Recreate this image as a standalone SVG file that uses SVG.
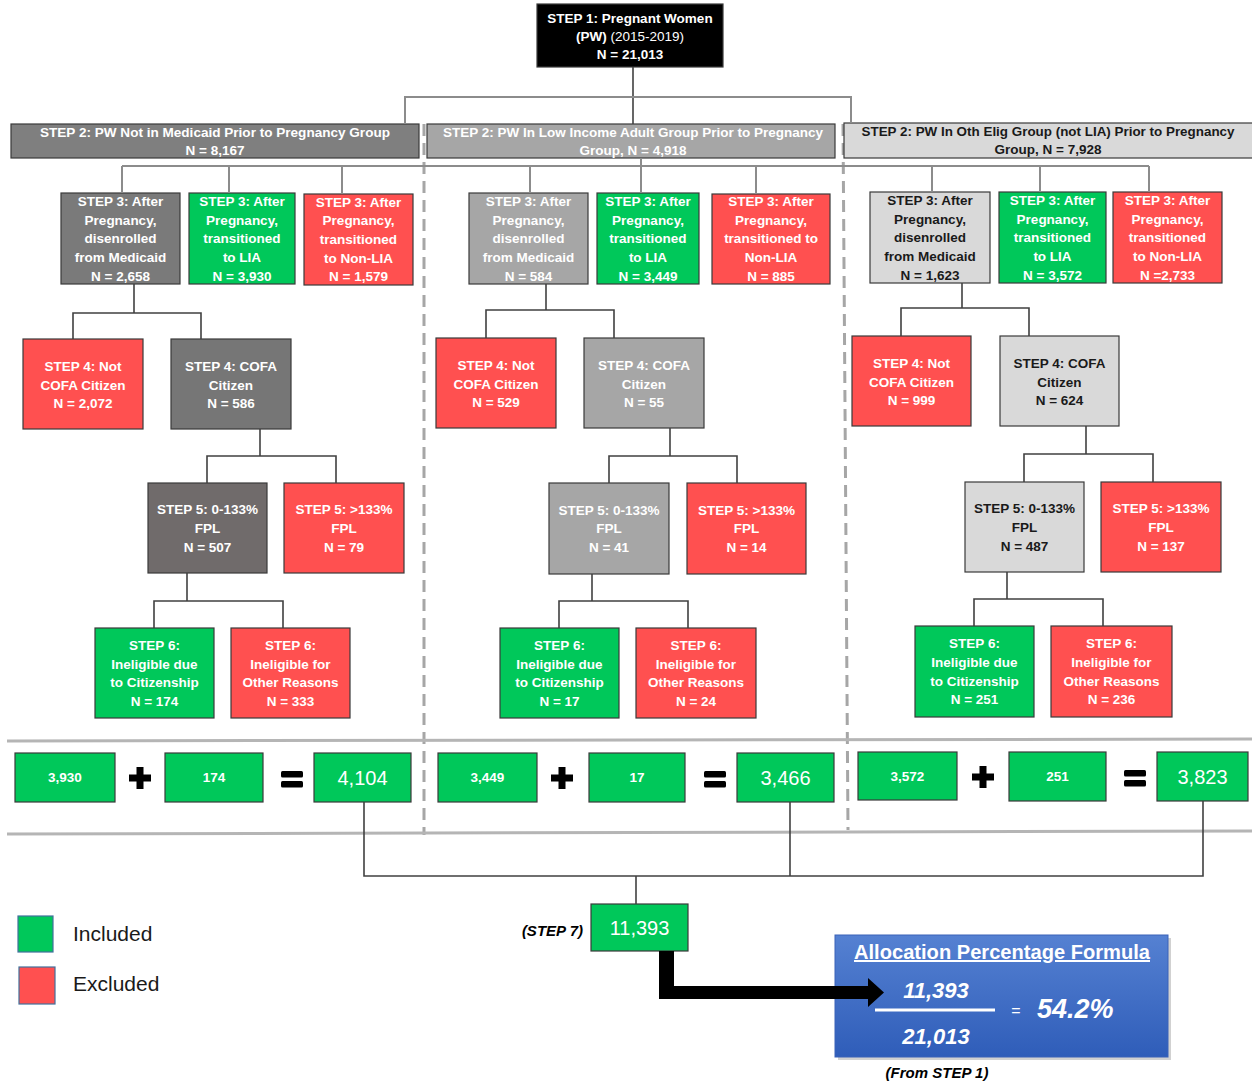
<svg xmlns="http://www.w3.org/2000/svg" width="1252" height="1085" viewBox="0 0 1252 1085">
<style>
text{font-family:'Liberation Sans',Arial,sans-serif}
.t{font-size:13.5px;font-weight:bold;text-anchor:middle;fill:#fff}
.k{fill:#1a1a1a}
rect.b{stroke:#3a3a3a;stroke-width:1.2}
.g{fill:#00c85a}.r{fill:#ff5050}.d0{fill:#000}.d1{fill:#7f7f7f}.d1a{fill:#7a7a7a}.d1b{fill:#767676}.d1c{fill:#706b6b}.d2{fill:#a6a6a6}.d3{fill:#d9d9d9}
.c{fill:none;stroke:#404040;stroke-width:1.6}
.cg{fill:none;stroke:#8c8c8c;stroke-width:2}
.dash{fill:none;stroke:#a6a6a6;stroke-width:3;stroke-dasharray:12 7}
.sep{fill:none;stroke:#b5b5b5;stroke-width:3}
.sm{font-size:13.5px;font-weight:bold;text-anchor:middle;fill:#fff}
.big{font-size:20px;text-anchor:middle;fill:#fff}
</style>
<defs>
<linearGradient id="blue" x1="0" y1="0" x2="0" y2="1">
<stop offset="0" stop-color="#5581d2"/>
<stop offset="1" stop-color="#2f5db9"/>
</linearGradient>
</defs>
<rect width="1252" height="1085" fill="#fff"/>

<g id="separators">
<line class="dash" x1="424" y1="124" x2="424" y2="835"/>
<line class="dash" x1="843" y1="124" x2="848" y2="830"/>
<line class="sep" x1="7" y1="741" x2="1252" y2="739"/>
<line class="sep" x1="7" y1="834" x2="1252" y2="831"/>
</g>

<!-- STEP 1 -->
<g id="step1">
<rect class="b d0" x="537" y="4" width="186" height="63"/>
<text class="t" x="630" y="22.8">STEP 1: Pregnant Women</text>
<text class="t" x="630" y="40.8">(PW)<tspan font-weight="normal"> (2015-2019)</tspan></text>
<text class="t" x="630" y="58.8">N = 21,013</text>
</g>

<!-- STEP 2 -->
<g id="step2a">
<rect class="b d1" x="11" y="124" width="408" height="34"/>
<text class="t" x="215" y="136.5" textLength="350" lengthAdjust="spacingAndGlyphs">STEP 2: PW Not in Medicaid Prior to Pregnancy Group</text>
<text class="t" x="215" y="154.8">N = 8,167</text>
</g>
<g id="step2b">
<rect class="b d2" x="427" y="124" width="408" height="34"/>
<text class="t" x="633" y="136.5" textLength="380" lengthAdjust="spacingAndGlyphs">STEP 2: PW In Low Income Adult Group Prior to Pregnancy</text>
<text class="t" x="633" y="154.8">Group, N = 4,918</text>
</g>
<g id="step2c">
<rect class="b d3" x="844" y="123" width="410" height="35"/>
<text class="t k" x="1048" y="136" textLength="373" lengthAdjust="spacingAndGlyphs">STEP 2: PW In Oth Elig Group (not LIA) Prior to Pregnancy</text>
<text class="t k" x="1048" y="154.3">Group, N = 7,928</text>
</g>

<!-- STEP 3 -->
<g id="step3a1">
<rect class="b d1a" x="61" y="193" width="119" height="91"/>
<text class="t" x="120.5" y="205.9">STEP 3: After</text>
<text class="t" x="120.5" y="224.6">Pregnancy,</text>
<text class="t" x="120.5" y="243.3">disenrolled</text>
<text class="t" x="120.5" y="262">from Medicaid</text>
<text class="t" x="120.5" y="280.7">N = 2,658</text>
</g>
<g id="step3a2">
<rect class="b g" x="189" y="193" width="106" height="91"/>
<text class="t" x="242" y="205.9">STEP 3: After</text>
<text class="t" x="242" y="224.6">Pregnancy,</text>
<text class="t" x="242" y="243.3">transitioned</text>
<text class="t" x="242" y="262">to LIA</text>
<text class="t" x="242" y="280.7">N = 3,930</text>
</g>
<g id="step3a3">
<rect class="b r" x="304" y="194" width="109" height="91"/>
<text class="t" x="358.5" y="206.5">STEP 3: After</text>
<text class="t" x="358.5" y="225.2">Pregnancy,</text>
<text class="t" x="358.5" y="243.9">transitioned</text>
<text class="t" x="358.5" y="262.6">to Non-LIA</text>
<text class="t" x="358.5" y="281.3">N = 1,579</text>
</g>
<g id="step3b1">
<rect class="b d2" x="469" y="193" width="119" height="91"/>
<text class="t" x="528.5" y="205.9">STEP 3: After</text>
<text class="t" x="528.5" y="224.6">Pregnancy,</text>
<text class="t" x="528.5" y="243.3">disenrolled</text>
<text class="t" x="528.5" y="262">from Medicaid</text>
<text class="t" x="528.5" y="280.7">N = 584</text>
</g>
<g id="step3b2">
<rect class="b g" x="597" y="193" width="102" height="91"/>
<text class="t" x="648" y="205.9">STEP 3: After</text>
<text class="t" x="648" y="224.6">Pregnancy,</text>
<text class="t" x="648" y="243.3">transitioned</text>
<text class="t" x="648" y="262">to LIA</text>
<text class="t" x="648" y="280.7">N = 3,449</text>
</g>
<g id="step3b3">
<rect class="b r" x="712" y="194" width="118" height="90"/>
<text class="t" x="771" y="205.9">STEP 3: After</text>
<text class="t" x="771" y="224.6">Pregnancy,</text>
<text class="t" x="771" y="243.3">transitioned to</text>
<text class="t" x="771" y="262">Non-LIA</text>
<text class="t" x="771" y="280.7">N = 885</text>
</g>
<g id="step3c1">
<rect class="b d3" x="870" y="192" width="120" height="91"/>
<text class="t k" x="930" y="205">STEP 3: After</text>
<text class="t k" x="930" y="223.7">Pregnancy,</text>
<text class="t k" x="930" y="242.4">disenrolled</text>
<text class="t k" x="930" y="261.1">from Medicaid</text>
<text class="t k" x="930" y="279.8">N = 1,623</text>
</g>
<g id="step3c2">
<rect class="b g" x="999" y="192" width="107" height="91"/>
<text class="t" x="1052.5" y="205">STEP 3: After</text>
<text class="t" x="1052.5" y="223.7">Pregnancy,</text>
<text class="t" x="1052.5" y="242.4">transitioned</text>
<text class="t" x="1052.5" y="261.1">to LIA</text>
<text class="t" x="1052.5" y="279.8">N = 3,572</text>
</g>
<g id="step3c3">
<rect class="b r" x="1113" y="192" width="109" height="91"/>
<text class="t" x="1167.5" y="205">STEP 3: After</text>
<text class="t" x="1167.5" y="223.7">Pregnancy,</text>
<text class="t" x="1167.5" y="242.4">transitioned</text>
<text class="t" x="1167.5" y="261.1">to Non-LIA</text>
<text class="t" x="1167.5" y="279.8">N =2,733</text>
</g>

<!-- STEP 4 -->
<g id="step4a1">
<rect class="b r" x="23" y="339" width="120" height="90"/>
<text class="t" x="83" y="370.8">STEP 4: Not</text>
<text class="t" x="83" y="389.5">COFA Citizen</text>
<text class="t" x="83" y="408.2">N = 2,072</text>
</g>
<g id="step4a2">
<rect class="b d1b" x="171" y="339" width="120" height="90"/>
<text class="t" x="231" y="370.8">STEP 4: COFA</text>
<text class="t" x="231" y="389.5">Citizen</text>
<text class="t" x="231" y="408.2">N = 586</text>
</g>
<g id="step4b1">
<rect class="b r" x="436" y="338" width="120" height="90"/>
<text class="t" x="496" y="369.8">STEP 4: Not</text>
<text class="t" x="496" y="388.5">COFA Citizen</text>
<text class="t" x="496" y="407.2">N = 529</text>
</g>
<g id="step4b2">
<rect class="b d2" x="584" y="338" width="120" height="90"/>
<text class="t" x="644" y="369.8">STEP 4: COFA</text>
<text class="t" x="644" y="388.5">Citizen</text>
<text class="t" x="644" y="407.2">N = 55</text>
</g>
<g id="step4c1">
<rect class="b r" x="852" y="336" width="119" height="90"/>
<text class="t" x="911.5" y="367.8">STEP 4: Not</text>
<text class="t" x="911.5" y="386.5">COFA Citizen</text>
<text class="t" x="911.5" y="405.2">N = 999</text>
</g>
<g id="step4c2">
<rect class="b d3" x="1000" y="336" width="119" height="90"/>
<text class="t k" x="1059.5" y="367.8">STEP 4: COFA</text>
<text class="t k" x="1059.5" y="386.5">Citizen</text>
<text class="t k" x="1059.5" y="405.2">N = 624</text>
</g>

<!-- STEP 5 -->
<g id="step5a1">
<rect class="b d1c" x="148" y="483" width="119" height="90"/>
<text class="t" x="207.5" y="514.1">STEP 5: 0-133%</text>
<text class="t" x="207.5" y="532.8">FPL</text>
<text class="t" x="207.5" y="551.5">N = 507</text>
</g>
<g id="step5a2">
<rect class="b r" x="284" y="483" width="120" height="90"/>
<text class="t" x="344" y="514.1">STEP 5: &gt;133%</text>
<text class="t" x="344" y="532.8">FPL</text>
<text class="t" x="344" y="551.5">N = 79</text>
</g>
<g id="step5b1">
<rect class="b d2" x="549" y="483" width="120" height="91"/>
<text class="t" x="609" y="514.6">STEP 5: 0-133%</text>
<text class="t" x="609" y="533.3">FPL</text>
<text class="t" x="609" y="552">N = 41</text>
</g>
<g id="step5b2">
<rect class="b r" x="687" y="483" width="119" height="91"/>
<text class="t" x="746.5" y="514.6">STEP 5: &gt;133%</text>
<text class="t" x="746.5" y="533.3">FPL</text>
<text class="t" x="746.5" y="552">N = 14</text>
</g>
<g id="step5c1">
<rect class="b d3" x="965" y="482" width="119" height="90"/>
<text class="t k" x="1024.5" y="513.1">STEP 5: 0-133%</text>
<text class="t k" x="1024.5" y="531.8">FPL</text>
<text class="t k" x="1024.5" y="550.5">N = 487</text>
</g>
<g id="step5c2">
<rect class="b r" x="1101" y="482" width="120" height="90"/>
<text class="t" x="1161" y="513.1">STEP 5: &gt;133%</text>
<text class="t" x="1161" y="531.8">FPL</text>
<text class="t" x="1161" y="550.5">N = 137</text>
</g>

<!-- STEP 6 -->
<g id="step6a1">
<rect class="b g" x="95" y="628" width="119" height="90"/>
<text class="t" x="154.5" y="649.8">STEP 6:</text>
<text class="t" x="154.5" y="668.5">Ineligible due</text>
<text class="t" x="154.5" y="687.2">to Citizenship</text>
<text class="t" x="154.5" y="705.9">N = 174</text>
</g>
<g id="step6a2">
<rect class="b r" x="231" y="628" width="119" height="90"/>
<text class="t" x="290.5" y="649.8">STEP 6:</text>
<text class="t" x="290.5" y="668.5">Ineligible for</text>
<text class="t" x="290.5" y="687.2">Other Reasons</text>
<text class="t" x="290.5" y="705.9">N = 333</text>
</g>
<g id="step6b1">
<rect class="b g" x="500" y="628" width="119" height="90"/>
<text class="t" x="559.5" y="649.8">STEP 6:</text>
<text class="t" x="559.5" y="668.5">Ineligible due</text>
<text class="t" x="559.5" y="687.2">to Citizenship</text>
<text class="t" x="559.5" y="705.9">N = 17</text>
</g>
<g id="step6b2">
<rect class="b r" x="636" y="628" width="120" height="90"/>
<text class="t" x="696" y="649.8">STEP 6:</text>
<text class="t" x="696" y="668.5">Ineligible for</text>
<text class="t" x="696" y="687.2">Other Reasons</text>
<text class="t" x="696" y="705.9">N = 24</text>
</g>
<g id="step6c1">
<rect class="b g" x="915" y="626" width="119" height="91"/>
<text class="t" x="974.5" y="648.3">STEP 6:</text>
<text class="t" x="974.5" y="667">Ineligible due</text>
<text class="t" x="974.5" y="685.7">to Citizenship</text>
<text class="t" x="974.5" y="704.4">N = 251</text>
</g>
<g id="step6c2">
<rect class="b r" x="1051" y="626" width="121" height="91"/>
<text class="t" x="1111.5" y="648.3">STEP 6:</text>
<text class="t" x="1111.5" y="667">Ineligible for</text>
<text class="t" x="1111.5" y="685.7">Other Reasons</text>
<text class="t" x="1111.5" y="704.4">N = 236</text>
</g>

<!-- sums -->
<g id="sumA">
<rect class="b g" x="15" y="753" width="100" height="49"/>
<text class="sm" x="65" y="782">3,930</text>
<path d="M136.5 767h7v7.5h7.5v7h-7.5v7.5h-7v-7.5h-7.5v-7h7.5z" fill="#000"/>
<rect class="b g" x="165" y="753" width="98" height="49"/>
<text class="sm" x="214" y="782">174</text>
<rect x="281" y="771" width="22" height="6.5" rx="1.5" fill="#000"/>
<rect x="281" y="781" width="22" height="6.5" rx="1.5" fill="#000"/>
<rect class="b g" x="314" y="753" width="97" height="49"/>
<text class="big" x="362.5" y="785">4,104</text>
</g>
<g id="sumB">
<rect class="b g" x="438" y="753" width="99" height="49"/>
<text class="sm" x="487.5" y="782">3,449</text>
<path d="M558.5 767h7v7.5h7.5v7h-7.5v7.5h-7v-7.5h-7.5v-7h7.5z" fill="#000"/>
<rect class="b g" x="589" y="753" width="96" height="49"/>
<text class="sm" x="637" y="782">17</text>
<rect x="704" y="771" width="22" height="6.5" rx="1.5" fill="#000"/>
<rect x="704" y="781" width="22" height="6.5" rx="1.5" fill="#000"/>
<rect class="b g" x="737" y="753" width="97" height="49"/>
<text class="big" x="785.5" y="785">3,466</text>
</g>
<g id="sumC">
<rect class="b g" x="858" y="752" width="99" height="48"/>
<text class="sm" x="907.5" y="781">3,572</text>
<path d="M979.5 766h7v7.5h7.5v7h-7.5v7.5h-7v-7.5h-7.5v-7h7.5z" fill="#000"/>
<rect class="b g" x="1009" y="752" width="97" height="49"/>
<text class="sm" x="1057.5" y="781">251</text>
<rect x="1124" y="770" width="22" height="6.5" rx="1.5" fill="#000"/>
<rect x="1124" y="780" width="22" height="6.5" rx="1.5" fill="#000"/>
<rect class="b g" x="1157" y="752" width="91" height="49"/>
<text class="big" x="1202.5" y="784">3,823</text>
</g>

<!-- STEP 7 -->
<g id="step7">
<text x="583" y="936" font-size="15" font-weight="bold" font-style="italic" text-anchor="end" fill="#000">(STEP 7)</text>
<rect class="b g" x="591" y="904" width="97" height="47"/>
<text class="big" x="639.5" y="934.5">11,393</text>
</g>

<!-- formula -->
<g id="formula">
<rect x="838" y="938" width="333" height="122" fill="#000" opacity="0.18"/>
<rect x="835" y="935" width="333" height="122" fill="url(#blue)" stroke="#3a62b8" stroke-width="1"/>
<text x="1002" y="959" font-size="20" font-weight="bold" text-anchor="middle" fill="#fff" textLength="296" lengthAdjust="spacingAndGlyphs" text-decoration="underline">Allocation Percentage Formula</text>
<text x="936" y="998" font-size="22" font-weight="bold" font-style="italic" text-anchor="middle" fill="#fff">11,393</text>
<line x1="875" y1="1010" x2="995" y2="1010" stroke="#fff" stroke-width="3"/>
<text x="1016" y="1016" font-size="16" text-anchor="middle" fill="#fff">=</text>
<text x="1037" y="1018" font-size="27" font-weight="bold" font-style="italic" fill="#fff">54.2%</text>
<text x="936" y="1044" font-size="22" font-weight="bold" font-style="italic" text-anchor="middle" fill="#fff">21,013</text>
<text x="937" y="1078" font-size="15" font-weight="bold" font-style="italic" text-anchor="middle" fill="#000">(From STEP 1)</text>
</g>

<!-- legend -->
<g id="legend">
<rect x="18" y="916" width="35" height="36" fill="#00c85a" stroke="#41719c" stroke-width="1.2"/>
<text x="73" y="941" font-size="21" fill="#1a1a1a">Included</text>
<rect x="19" y="967" width="36" height="37" fill="#ff5050" stroke="#41719c" stroke-width="1.2"/>
<text x="73" y="991" font-size="21" fill="#1a1a1a">Excluded</text>
</g>

<g id="connectors">
<line class="c" x1="633" y1="67" x2="633" y2="124"/>
<polyline class="cg" points="405,124 405,97 851,97 851,123"/>
<line class="cg" x1="122" y1="166" x2="1149" y2="166"/>
<line class="cg" x1="122" y1="166" x2="122" y2="193"/>
<line class="cg" x1="229" y1="166" x2="229" y2="193"/>
<line class="cg" x1="342" y1="166" x2="342" y2="194"/>
<line class="cg" x1="530" y1="166" x2="530" y2="193"/>
<line class="cg" x1="641" y1="158" x2="641" y2="193"/>
<line class="cg" x1="756" y1="166" x2="756" y2="194"/>
<line class="cg" x1="932" y1="166" x2="932" y2="192"/>
<line class="cg" x1="1040" y1="166" x2="1040" y2="192"/>
<line class="cg" x1="1149" y1="166" x2="1149" y2="192"/>
<polyline class="c" points="134,284 134,313"/>
<polyline class="c" points="73,339 73,313 201,313 201,339"/>
<polyline class="c" points="546,284 546,310"/>
<polyline class="c" points="486,338 486,310 614,310 614,338"/>
<polyline class="c" points="962,283 962,308"/>
<polyline class="c" points="901,336 901,308 1029,308 1029,336"/>
<polyline class="c" points="260,429 260,456"/>
<polyline class="c" points="207,483 207,456 336,456 336,483"/>
<polyline class="c" points="670,428 670,456"/>
<polyline class="c" points="609,483 609,456 737,456 737,483"/>
<polyline class="c" points="1086,426 1086,454"/>
<polyline class="c" points="1024,482 1024,454 1153,454 1153,482"/>
<polyline class="c" points="187,573 187,601"/>
<polyline class="c" points="154,628 154,601 283,601 283,628"/>
<polyline class="c" points="592,574 592,601"/>
<polyline class="c" points="559,628 559,601 688,601 688,628"/>
<polyline class="c" points="1007,572 1007,599"/>
<polyline class="c" points="974,626 974,599 1103,599 1103,626"/>
<polyline class="c" points="364,802 364,876 1203,876 1203,801"/>
<line class="c" x1="790" y1="802" x2="790" y2="876"/>
<line class="c" x1="636" y1="876" x2="636" y2="904"/>
<polygon fill="#000" points="659,951 674,951 674,986 868,986 868,978 884,992.5 868,1007 868,999 659,999"/>
</g>
</svg>
